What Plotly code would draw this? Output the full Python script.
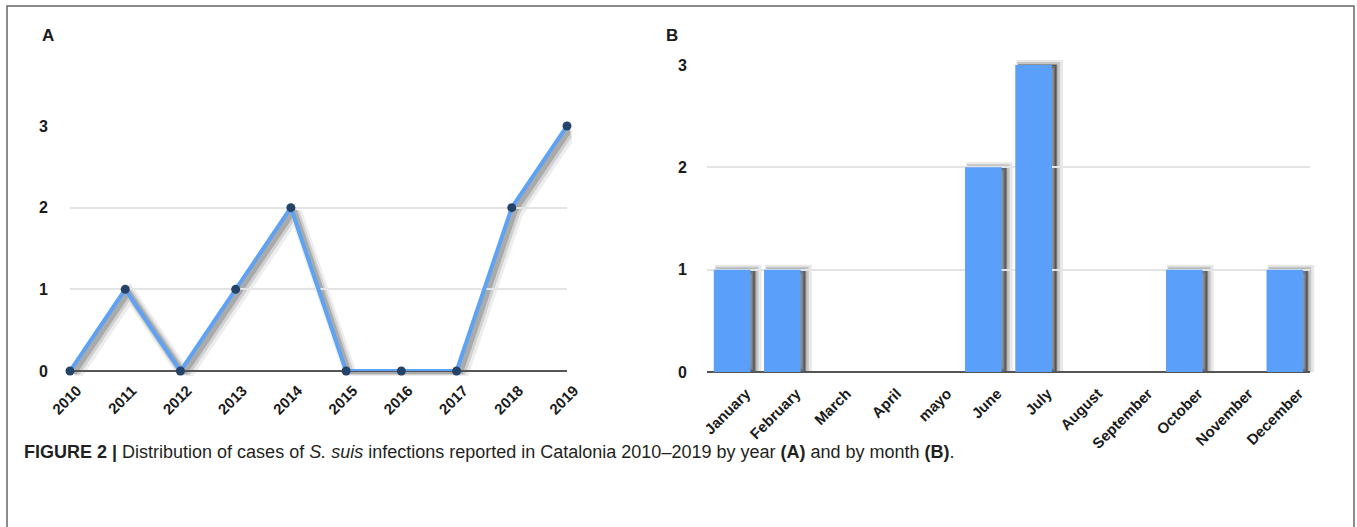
import plotly.graph_objects as go

# ---- data ----
years = [2010, 2011, 2012, 2013, 2014, 2015, 2016, 2017, 2018, 2019]
cases_by_year = [0, 1, 0, 1, 2, 0, 0, 0, 2, 3]

months = ["January", "February", "March", "April", "mayo", "June", "July",
          "August", "September", "October", "November", "December"]
cases_by_month = [1, 1, 0, 0, 0, 2, 3, 0, 0, 1, 0, 1]

yticks = [0, 1, 2, 3]

W, H = 1357, 527

def px_x(a, b):
    return [a / W, b / W]

def px_y(top, bottom):
    return [1 - bottom / H, 1 - top / H]

LINE_BLUE = "#5ea2f4"
BAR_BLUE = "#5a9ffa"
MARK = "#24436b"
FONT = "Liberation Sans"
TXT = "#1a1a1a"

fig = go.Figure()

A_x = (70, 567)
A_y = (126, 371)
B_x = (707, 1310)
B_y = (65, 372)

hidden = dict(visible=False, automargin=False, showgrid=False, zeroline=False)

# --- shadows panel A (axes 1..3) ---
shadow_layers_A = [(5, 5, 13, 0.07), (4, 4, 9, 0.12), (3, 3, 6, 0.18)]
for i, (dx, dy, w, op) in enumerate(shadow_layers_A):
    ax = 1 + i
    sfx = "" if ax == 1 else str(ax)
    fig.add_trace(go.Scatter(
        x=years, y=cases_by_year, mode="lines",
        line=dict(color=f"rgba(0,0,0,{op})", width=w),
        xaxis=f"x{sfx}", yaxis=f"y{sfx}", hoverinfo="skip", showlegend=False,
        cliponaxis=False))
    fig.layout[f"xaxis{sfx}"] = dict(domain=px_x(A_x[0] + dx, A_x[1] + dx),
                                     range=[2010, 2019], anchor=f"y{sfx}", **hidden)
    fig.layout[f"yaxis{sfx}"] = dict(domain=px_y(A_y[0] + dy, A_y[1] + dy),
                                     range=[0, 3], anchor=f"x{sfx}", **hidden)

# --- shadows panel B (axes 4..6) ---
shadow_layers_B = [(6, 0.09, 10), (5, 0.15, 6), (4, 0.26, 2)]
for i, (dx, op, lw) in enumerate(shadow_layers_B):
    ax = 4 + i
    fig.add_trace(go.Bar(
        x=months, y=cases_by_month,
        marker=dict(color=f"rgba(0,0,0,{op})",
                    line=dict(width=[lw if v > 0 else 0 for v in cases_by_month],
                              color=f"rgba(0,0,0,{op})")),
        xaxis=f"x{ax}", yaxis=f"y{ax}", hoverinfo="skip", showlegend=False,
        cliponaxis=True))
    fig.layout[f"xaxis{ax}"] = dict(domain=px_x(B_x[0] + dx, B_x[1] + dx),
                                    range=[-0.5, 11.5], anchor=f"y{ax}",
                                    type="category", **hidden)
    fig.layout[f"yaxis{ax}"] = dict(domain=px_y(B_y[0] - 8, B_y[1]),
                                    range=[0, 3 * (B_y[1] - B_y[0] + 8) / (B_y[1] - B_y[0])],
                                    anchor=f"x{ax}", **hidden)

# --- main traces (axes 7 and 8, drawn on top) ---
fig.add_trace(go.Scatter(
    x=years, y=cases_by_year, mode="lines+markers",
    line=dict(color=LINE_BLUE, width=4),
    marker=dict(color=MARK, size=9),
    xaxis="x7", yaxis="y7", showlegend=False, cliponaxis=False))

fig.add_trace(go.Bar(
    x=months, y=cases_by_month, marker=dict(color=BAR_BLUE, line=dict(width=0)),
    xaxis="x8", yaxis="y8", showlegend=False, cliponaxis=False))

# --- invisible traces carrying the x tick labels (axes 9 and 10) ---
fig.add_trace(go.Scatter(
    x=years, y=cases_by_year, mode="lines", opacity=0, line=dict(width=0),
    xaxis="x9", yaxis="y9", hoverinfo="skip", showlegend=False))
fig.add_trace(go.Bar(
    x=months, y=cases_by_month, opacity=0,
    xaxis="x10", yaxis="y10", hoverinfo="skip", showlegend=False))

tickfont = dict(family=FONT, size=15, color=TXT, weight="bold")
ytickfont = dict(family=FONT, size=16, color=TXT, weight="bold")

A_lab_dx = 7
B_lab_dx = 14

fig.update_layout(
    template="none",
    width=W, height=H,
    margin=dict(l=0, r=0, t=0, b=0, autoexpand=False),
    paper_bgcolor="white", plot_bgcolor="rgba(0,0,0,0)",
    bargap=0.27,
    xaxis7=dict(domain=px_x(*A_x), range=[2010, 2019], showticklabels=False,
                showgrid=False, zeroline=False, showline=False, ticks="",
                anchor="y7", automargin=False),
    yaxis7=dict(domain=px_y(*A_y), range=[0, 3], tickvals=yticks,
                tickfont=ytickfont, showgrid=True, gridcolor="#e4e4e4", gridwidth=1.5,
                zeroline=True, zerolinecolor="#555", zerolinewidth=1.5,
                showline=False, ticks="outside", ticklen=18, tickcolor="rgba(0,0,0,0)",
                anchor="x7", automargin=False),
    xaxis8=dict(domain=px_x(*B_x), range=[-0.5, 11.5], type="category",
                showticklabels=False, showgrid=False, zeroline=False,
                showline=False, ticks="", anchor="y8", automargin=False),
    yaxis8=dict(domain=px_y(*B_y), range=[0, 3], tickvals=yticks,
                tickfont=ytickfont, showgrid=True, gridcolor="#e4e4e4", gridwidth=1.5,
                zeroline=True, zerolinecolor="#555", zerolinewidth=1.5,
                showline=False, ticks="outside", ticklen=16, tickcolor="rgba(0,0,0,0)",
                anchor="x8", automargin=False),
    xaxis9=dict(domain=px_x(A_x[0] + A_lab_dx, A_x[1] + A_lab_dx), range=[2010, 2019],
                tickmode="array", tickvals=years, ticktext=[str(y) for y in years],
                tickangle=-45, tickfont=tickfont, showgrid=False, zeroline=False,
                showline=False, ticks="outside", ticklen=4, tickcolor="rgba(0,0,0,0)",
                anchor="y9", automargin=False),
    yaxis9=dict(domain=px_y(*A_y), range=[0, 3], anchor="x9", **hidden),
    xaxis10=dict(domain=px_x(B_x[0] + B_lab_dx, B_x[1] + B_lab_dx), range=[-0.5, 11.5],
                 type="category", tickangle=-45, tickfont=tickfont, showgrid=False,
                 zeroline=False, showline=False, ticks="outside", ticklen=6,
                 tickcolor="rgba(0,0,0,0)", anchor="y10", automargin=False),
    yaxis10=dict(domain=px_y(*B_y), range=[0, 3], anchor="x10", **hidden),
)

# panel letters
fig.add_annotation(text="A", x=40 / W, y=1 - 35 / H, xref="paper", yref="paper",
                   xanchor="left", yanchor="middle", showarrow=False,
                   font=dict(family=FONT, size=17, color=TXT, weight="bold"))
fig.add_annotation(text="B", x=664 / W, y=1 - 35 / H, xref="paper", yref="paper",
                   xanchor="left", yanchor="middle", showarrow=False,
                   font=dict(family=FONT, size=17, color=TXT, weight="bold"))

# caption
caption = ("<b>FIGURE 2 |</b> Distribution of cases of <i>S. suis</i> infections reported "
           "in Catalonia 2010–2019 by year <b>(A)</b> and by month <b>(B)</b>.")
fig.add_annotation(text=caption, x=22 / W, y=1 - 452 / H, xref="paper", yref="paper",
                   xanchor="left", yanchor="middle", showarrow=False,
                   font=dict(family=FONT, size=18, color="#231f20"))

# border (left, top, right)
fig.add_shape(type="rect", xref="paper", yref="paper",
              x0=7 / W, x1=1354 / W, y0=-0.05, y1=1 - 6 / H,
              line=dict(color="#666", width=1.5), fillcolor="rgba(0,0,0,0)")

fig.write_html("out.html")
